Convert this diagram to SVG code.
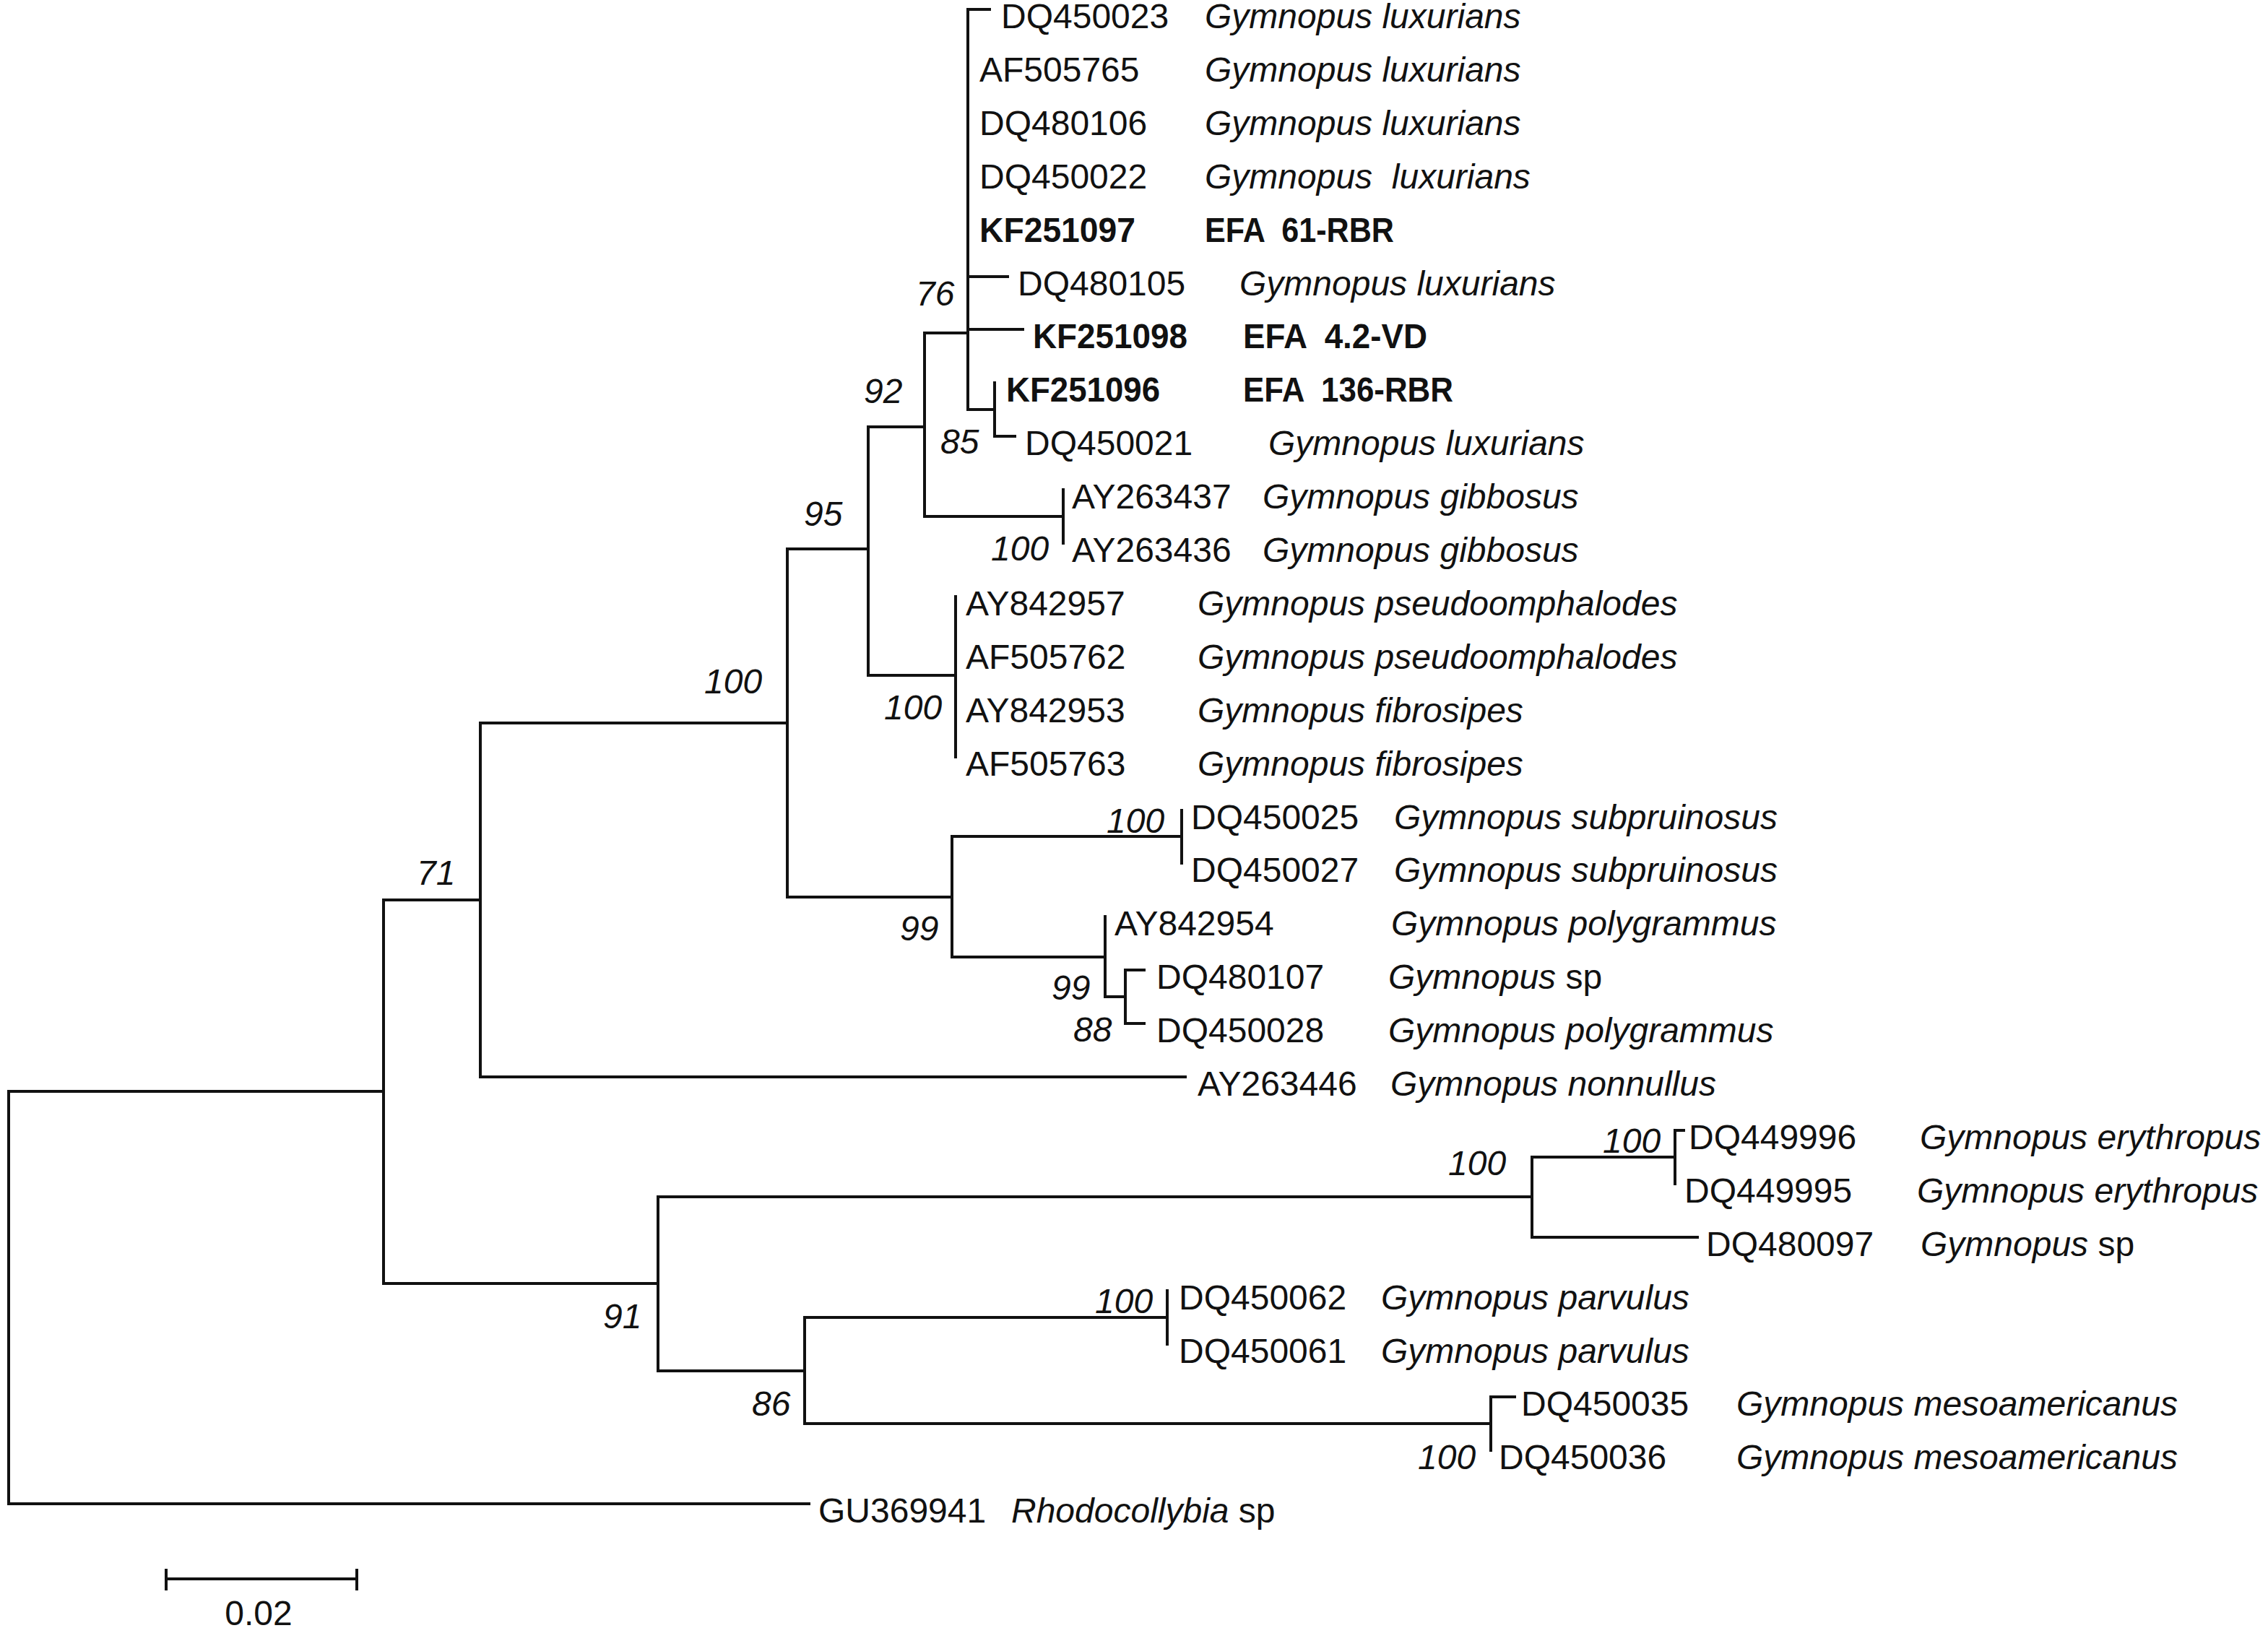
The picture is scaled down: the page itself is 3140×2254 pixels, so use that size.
<svg xmlns="http://www.w3.org/2000/svg" width="3140" height="2254" viewBox="0 0 3140 2254">
<style>
text{font-family:"Liberation Sans",Arial,sans-serif;font-size:48px;fill:#111}
.sp{font-style:italic}
.b{font-weight:bold}
.bs{font-style:italic}
.br{fill:none;stroke:#111;stroke-width:4;stroke-linecap:square}
</style>
<rect width="3140" height="2254" fill="#fff"/>
<g id="branches" class="br">
<path d="M12,1511V2082M12,1511H531M12,2082H1120"/>
<path d="M531,1246V1777M531,1246H665M531,1777H911"/>
<path d="M665,1001V1491M665,1001H1090M665,1491H1641"/>
<path d="M1090,760V1242M1090,760H1202M1090,1242H1318"/>
<path d="M1202,591V935M1202,591H1280M1202,935H1323"/>
<path d="M1280,461V715M1280,461H1340M1280,715H1472"/>
<path d="M1340,13V567M1340,13H1370M1340,383H1395M1340,456H1416M1340,567H1377"/>
<path d="M1377,530V604M1377,604H1405"/>
<path d="M1472,678V752"/>
<path d="M1323,826V1048"/>
<path d="M1318,1158V1325M1318,1158H1636M1318,1325H1530"/>
<path d="M1636,1122V1195"/>
<path d="M1530,1269V1380M1530,1380H1558"/>
<path d="M1558,1343V1417M1558,1343H1584M1558,1417H1584"/>
<path d="M911,1657V1898M911,1657H2121M911,1898H1114"/>
<path d="M2121,1602V1713M2121,1602H2319M2121,1713H2350"/>
<path d="M2319,1565V1639M2319,1565H2331"/>
<path d="M1114,1824V1971M1114,1824H1616M1114,1971H2064"/>
<path d="M1616,1787V1861"/>
<path d="M2064,1934V2008M2064,1934H2097"/>
</g>
<g id="bootstrap">
<text class="bs" x="1268" y="423">76</text>
<text class="bs" x="1196" y="558">92</text>
<text class="bs" x="1302" y="628">85</text>
<text class="bs" x="1372" y="776">100</text>
<text class="bs" x="1113" y="728">95</text>
<text class="bs" x="1224" y="996">100</text>
<text class="bs" x="975" y="960">100</text>
<text class="bs" x="577" y="1225">71</text>
<text class="bs" x="1532" y="1153">100</text>
<text class="bs" x="1246" y="1302">99</text>
<text class="bs" x="1456" y="1384">99</text>
<text class="bs" x="1486" y="1442">88</text>
<text class="bs" x="2005" y="1627">100</text>
<text class="bs" x="2219" y="1596">100</text>
<text class="bs" x="835" y="1839">91</text>
<text class="bs" x="1516" y="1818">100</text>
<text class="bs" x="1041" y="1960">86</text>
<text class="bs" x="1963" y="2034">100</text>
</g>
<g id="t01"><text x="1386" y="39">DQ450023</text><text class="sp" x="1668" y="39">Gymnopus luxurians</text></g>
<g id="t02"><text x="1356" y="113">AF505765</text><text class="sp" x="1668" y="113">Gymnopus luxurians</text></g>
<g id="t03"><text x="1356" y="187">DQ480106</text><text class="sp" x="1668" y="187">Gymnopus luxurians</text></g>
<g id="t04"><text x="1356" y="261">DQ450022</text><text class="sp" x="1668" y="261" xml:space="preserve">Gymnopus  luxurians</text></g>
<g id="t05"><text class="b" x="1356" y="335" textLength="216" lengthAdjust="spacingAndGlyphs">KF251097</text><text class="b" x="1668" y="335" xml:space="preserve" textLength="262" lengthAdjust="spacingAndGlyphs">EFA  61-RBR</text></g>
<g id="t06"><text x="1409" y="409">DQ480105</text><text class="sp" x="1716" y="409">Gymnopus luxurians</text></g>
<g id="t07"><text class="b" x="1430" y="482" textLength="214" lengthAdjust="spacingAndGlyphs">KF251098</text><text class="b" x="1721" y="482" xml:space="preserve" textLength="255" lengthAdjust="spacingAndGlyphs">EFA  4.2-VD</text></g>
<g id="t08"><text class="b" x="1393" y="556" textLength="213" lengthAdjust="spacingAndGlyphs">KF251096</text><text class="b" x="1721" y="556" xml:space="preserve" textLength="291" lengthAdjust="spacingAndGlyphs">EFA  136-RBR</text></g>
<g id="t09"><text x="1419" y="630">DQ450021</text><text class="sp" x="1756" y="630">Gymnopus luxurians</text></g>
<g id="t10"><text x="1484" y="704">AY263437</text><text class="sp" x="1748" y="704">Gymnopus gibbosus</text></g>
<g id="t11"><text x="1484" y="778">AY263436</text><text class="sp" x="1748" y="778">Gymnopus gibbosus</text></g>
<g id="t12"><text x="1337" y="852">AY842957</text><text class="sp" x="1658" y="852">Gymnopus pseudoomphalodes</text></g>
<g id="t13"><text x="1337" y="926">AF505762</text><text class="sp" x="1658" y="926">Gymnopus pseudoomphalodes</text></g>
<g id="t14"><text x="1337" y="1000">AY842953</text><text class="sp" x="1658" y="1000">Gymnopus fibrosipes</text></g>
<g id="t15"><text x="1337" y="1074">AF505763</text><text class="sp" x="1658" y="1074">Gymnopus fibrosipes</text></g>
<g id="t16"><text x="1649" y="1148">DQ450025</text><text class="sp" x="1930" y="1148">Gymnopus subpruinosus</text></g>
<g id="t17"><text x="1649" y="1221">DQ450027</text><text class="sp" x="1930" y="1221">Gymnopus subpruinosus</text></g>
<g id="t18"><text x="1543" y="1295">AY842954</text><text class="sp" x="1926" y="1295">Gymnopus polygrammus</text></g>
<g id="t19"><text x="1601" y="1369">DQ480107</text><text x="1922" y="1369"><tspan class="sp">Gymnopus</tspan> sp</text></g>
<g id="t20"><text x="1601" y="1443">DQ450028</text><text class="sp" x="1922" y="1443">Gymnopus polygrammus</text></g>
<g id="t21"><text x="1658" y="1517">AY263446</text><text class="sp" x="1925" y="1517">Gymnopus nonnullus</text></g>
<g id="t22"><text x="2338" y="1591">DQ449996</text><text class="sp" x="2658" y="1591">Gymnopus erythropus</text></g>
<g id="t23"><text x="2332" y="1665">DQ449995</text><text class="sp" x="2654" y="1665">Gymnopus erythropus</text></g>
<g id="t24"><text x="2362" y="1739">DQ480097</text><text x="2659" y="1739"><tspan class="sp">Gymnopus</tspan> sp</text></g>
<g id="t25"><text x="1632" y="1813">DQ450062</text><text class="sp" x="1912" y="1813">Gymnopus parvulus</text></g>
<g id="t26"><text x="1632" y="1887">DQ450061</text><text class="sp" x="1912" y="1887">Gymnopus parvulus</text></g>
<g id="t27"><text x="2106" y="1960">DQ450035</text><text class="sp" x="2404" y="1960">Gymnopus mesoamericanus</text></g>
<g id="t28"><text x="2075" y="2034">DQ450036</text><text class="sp" x="2404" y="2034">Gymnopus mesoamericanus</text></g>
<g id="t29"><text x="1133" y="2108">GU369941</text><text x="1400" y="2108"><tspan class="sp">Rhodocollybia</tspan> sp</text></g>
<g id="scalebar">
<path class="br" d="M230,2186H494M230,2174V2200M494,2174V2200"/>
<text x="358" y="2250" text-anchor="middle">0.02</text>
</g>
</svg>
